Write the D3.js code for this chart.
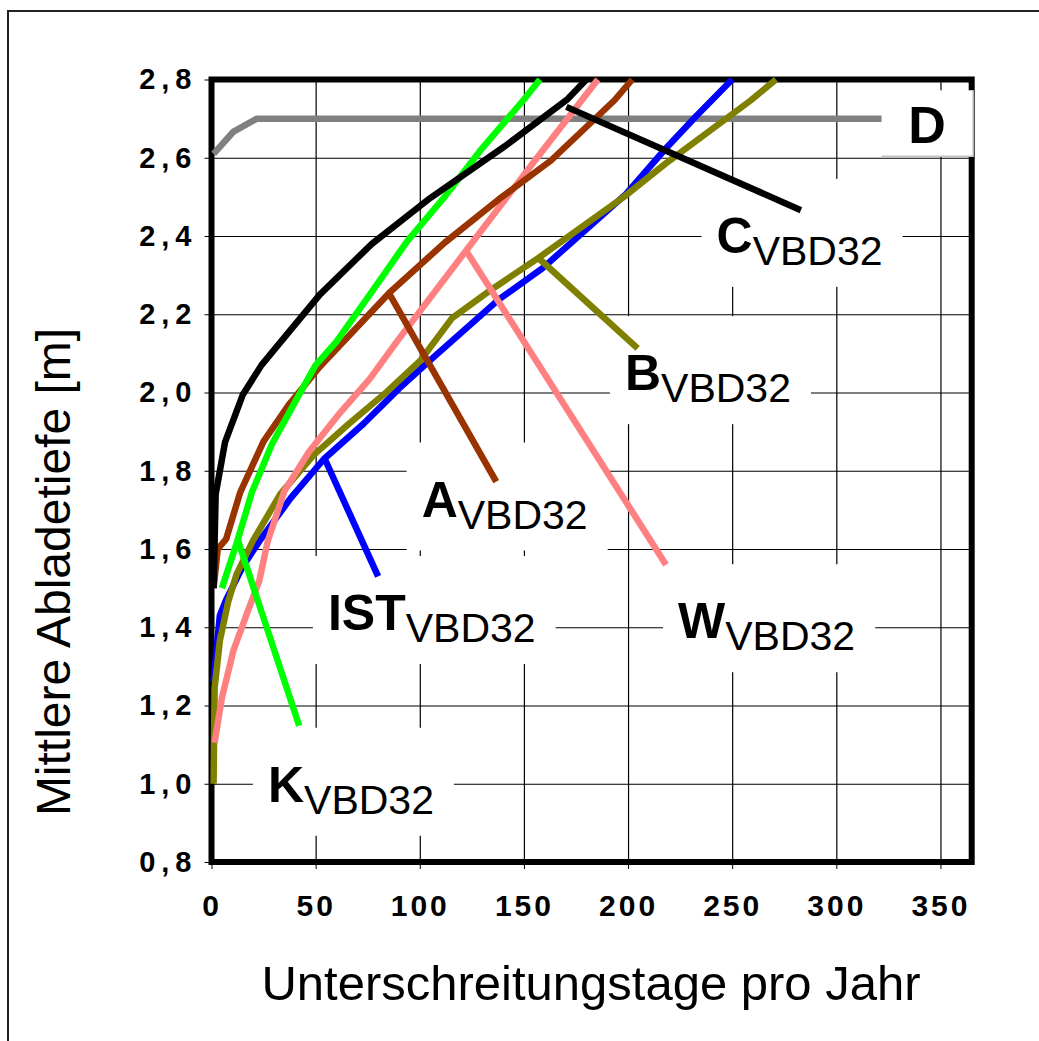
<!DOCTYPE html>
<html>
<head>
<meta charset="utf-8">
<script src="https://cdn.jsdelivr.net/npm/d3@7"></script>
<style>
  body { margin: 0; background: #fff; }
  svg { display: block; font-family: "Liberation Sans", Arial, sans-serif; }
</style>
</head>
<body>
<svg id="chart" width="1039" height="1041"></svg>
<script>
// Axis ticks and their labels.
var xTicks = [0, 50, 100, 150, 200, 250, 300, 350];
var yTicks = [0.8, 1.0, 1.2, 1.4, 1.6, 1.8, 2.0, 2.2, 2.4, 2.6, 2.8];
var yTickLabels = ["0,8", "1,0", "1,2", "1,4", "1,6", "1,8", "2,0", "2,2", "2,4", "2,6", "2,8"];

// Curves: [Unterschreitungstage, mittlere Abladetiefe].
var ist = [[1, 1.26], [2, 1.32], [4, 1.43], [7, 1.47], [15, 1.555], [23, 1.62], [38, 1.73], [54, 1.83], [73, 1.92],
  [90, 2.01], [106, 2.087], [138, 2.238], [159, 2.318], [199, 2.507], [218, 2.623], [233, 2.708], [250, 2.8]];
var scenA = [[1, 1.5], [3, 1.6], [7, 1.625], [13.8, 1.745], [25, 1.875], [37, 1.968], [52, 2.066], [86, 2.258],
  [112, 2.383], [138, 2.494], [163, 2.593], [193.5, 2.747], [202, 2.8]];
var scenB = [[1, 1.0], [1.5, 1.245], [4, 1.365], [8, 1.465], [12, 1.535], [20, 1.622], [33, 1.74], [49, 1.84],
  [66, 1.92], [84, 2.001], [100.5, 2.083], [115.5, 2.19], [133, 2.258], [157, 2.344], [198, 2.5], [218, 2.585],
  [259, 2.747], [271, 2.8]];
var scenC = [[1, 1.5], [2, 1.74], [6.5, 1.873], [15, 1.994], [24, 2.07], [52, 2.25], [77, 2.38], [105, 2.497],
  [141, 2.63], [171, 2.75], [180, 2.8]];
var scenK = [[5, 1.5], [12.5, 1.622], [19.4, 1.745], [29, 1.868], [42, 1.994], [50, 2.07], [60, 2.13], [76, 2.25],
  [94, 2.387], [111.6, 2.498], [129, 2.618], [149.7, 2.747], [157.7, 2.8]];
var scenW = [[1.5, 1.105], [5, 1.22], [10.5, 1.34], [17, 1.435], [23, 1.52], [27, 1.62], [35, 1.748], [47, 1.85],
  [62, 1.95], [76, 2.035], [89, 2.13], [122, 2.361], [154, 2.584], [185.5, 2.8]];
var scenD = [[1, 2.61], [10.6, 2.667], [21.8, 2.7], [365, 2.7]];

// Leader lines from a curve to its label.
var leaderIST = [[54.4, 1.83], [80, 1.53]];
var leaderA = [[85.6, 2.25], [136.7, 1.772]];
var leaderB = [[156.7, 2.345], [204.6, 2.113]];
var leaderC = [[170.4, 2.73], [283, 2.466]];
var leaderK = [[12.7, 1.622], [42.1, 1.148]];
var leaderW = [[122.3, 2.362], [218.2, 1.56]];

// Label anchors (left of the big letter, its baseline).
var labelIST = [55.9, 1.393];
var labelA = [100.9, 1.683];
var labelB = [198.5, 2.006];
var labelC = [242.5, 2.357];
var labelK = [27.1, 0.954];
var labelW = [224, 1.372];
var labelD = [334.5, 2.637];

var series = [
  { name: "D", color: "#808080", points: scenD },
  { name: "IST", color: "#0000ff", points: ist, leader: leaderIST, label: labelIST },
  { name: "B", color: "#808000", points: scenB, leader: leaderB, label: labelB },
  { name: "W", color: "#ff8080", points: scenW, leader: leaderW, label: labelW },
  { name: "A", color: "#993300", points: scenA, leader: leaderA, label: labelA },
  { name: "K", color: "#00ff00", points: scenK, leader: leaderK, label: labelK },
  { name: "C", color: "#000000", points: scenC, leader: leaderC, label: labelC }
];

var svg = d3.select("#chart");

var x = d3.scaleLinear().domain([0, 365]).range([211.5, 971.7]);
var y = d3.scaleLinear().domain([0.8, 2.8]).range([862, 79.5]);

// Outer frame of the figure.
svg.append("path")
  .attr("d", "M8,1041V11H1039")
  .attr("fill", "none")
  .attr("stroke", "#222")
  .attr("stroke-width", 2);

// Grid lines.
svg.append("g")
  .attr("transform", "translate(0," + y(0.8) + ")")
  .call(d3.axisBottom(x).tickValues(xTicks.slice(1)).tickSize(-(y(0.8) - y(2.8))).tickFormat(""))
  .call(function(g) { g.select(".domain").remove(); })
  .call(function(g) { g.selectAll("line").attr("stroke", "#000").attr("stroke-width", 1.2); });

svg.append("g")
  .attr("transform", "translate(" + x(0) + ",0)")
  .call(d3.axisLeft(y).tickValues(yTicks.slice(1, -1)).tickSize(-(x(365) - x(0))).tickFormat(""))
  .call(function(g) { g.select(".domain").remove(); })
  .call(function(g) { g.selectAll("line").attr("stroke", "#000").attr("stroke-width", 1.2); });

// Axes with outward ticks and labels.
var yAxis = svg.append("g")
  .attr("transform", "translate(" + x(0) + ",0)")
  .call(d3.axisLeft(y).tickValues(yTicks).tickSize(7).tickPadding(7)
    .tickFormat(function(d, i) { return yTickLabels[i]; }));
yAxis.select(".domain").remove();
yAxis.selectAll("text")
  .attr("font-family", "'Liberation Sans', Arial, sans-serif")
  .attr("font-size", 29)
  .attr("font-weight", "bold")
  .attr("letter-spacing", 6)
  .attr("fill", "#000");

var xAxis = svg.append("g")
  .attr("transform", "translate(0," + y(0.8) + ")")
  .call(d3.axisBottom(x).tickValues(xTicks).tickSize(7).tickPadding(26));
xAxis.select(".domain").remove();
xAxis.selectAll("text")
  .attr("font-family", "'Liberation Sans', Arial, sans-serif")
  .attr("font-size", 30)
  .attr("font-weight", "bold")
  .attr("letter-spacing", 3)
  .attr("fill", "#000");

// Thick plot frame.
svg.append("rect")
  .attr("x", x(0))
  .attr("y", y(2.8))
  .attr("width", x(365) - x(0))
  .attr("height", y(0.8) - y(2.8))
  .attr("fill", "none")
  .attr("stroke", "#000")
  .attr("stroke-width", 6);

var line = d3.line()
  .x(function(d) { return x(d[0]); })
  .y(function(d) { return y(d[1]); });

svg.append("g").selectAll("path")
  .data(series)
  .enter().append("path")
    .attr("d", function(d) { return line(d.points); })
    .attr("fill", "none")
    .attr("stroke", function(d) { return d.color; })
    .attr("stroke-width", 6.5)
    .attr("stroke-linejoin", "round");

// Labels: white boxes first, then leaders, then text.
var labelled = series.filter(function(d) { return d.label; });
var boxes = svg.append("g");
var leaders = svg.append("g");
var texts = svg.append("g");

labelled.forEach(function(s) {
  var lx = x(s.label[0]), ly = y(s.label[1]);
  var t = texts.append("text")
    .attr("x", lx)
    .attr("y", ly)
    .attr("fill", "#000");
  t.append("tspan")
    .attr("font-size", 50)
    .attr("font-weight", "bold")
    .text(s.name);
  t.append("tspan")
    .attr("font-size", 41)
    .attr("dy", 12)
    .text("VBD32");
  var w = t.node().getComputedTextLength();
  boxes.append("rect")
    .attr("x", lx - 15)
    .attr("y", ly - 74)
    .attr("width", w + 35)
    .attr("height", 108)
    .attr("fill", "#fff");
  leaders.append("path")
    .attr("d", line(s.leader))
    .attr("fill", "none")
    .attr("stroke", s.color)
    .attr("stroke-width", 6.5);
});

// Label of the D line sits in its own small box.
var dx = x(labelD[0]), dy = y(labelD[1]);
var dText = texts.append("text")
  .attr("x", dx)
  .attr("y", dy)
  .attr("font-size", 52)
  .attr("font-weight", "bold")
  .attr("fill", "#000")
  .text("D");
var dw = dText.node().getComputedTextLength();
boxes.append("rect")
  .attr("x", dx - 26.6)
  .attr("y", dy - 53)
  .attr("width", dw + 54)
  .attr("height", 66)
  .attr("fill", "#fff");
boxes.append("path")
  .attr("d", "M" + (dx - 26.6) + "," + (dy + 13) + "H" + (dx + dw + 27.4) + "V" + (dy - 53))
  .attr("fill", "none")
  .attr("stroke", "#c4c4c4")
  .attr("stroke-width", 1.5);

// Axis titles.
svg.append("text")
  .attr("transform", "translate(70,572) rotate(-90)")
  .attr("text-anchor", "middle")
  .attr("font-size", 48)
  .attr("fill", "#000")
  .text("Mittlere Abladetiefe [m]");

svg.append("text")
  .attr("x", 591)
  .attr("y", 1000)
  .attr("text-anchor", "middle")
  .attr("font-size", 49)
  .attr("fill", "#000")
  .text("Unterschreitungstage pro Jahr");
</script>
</body>
</html>
